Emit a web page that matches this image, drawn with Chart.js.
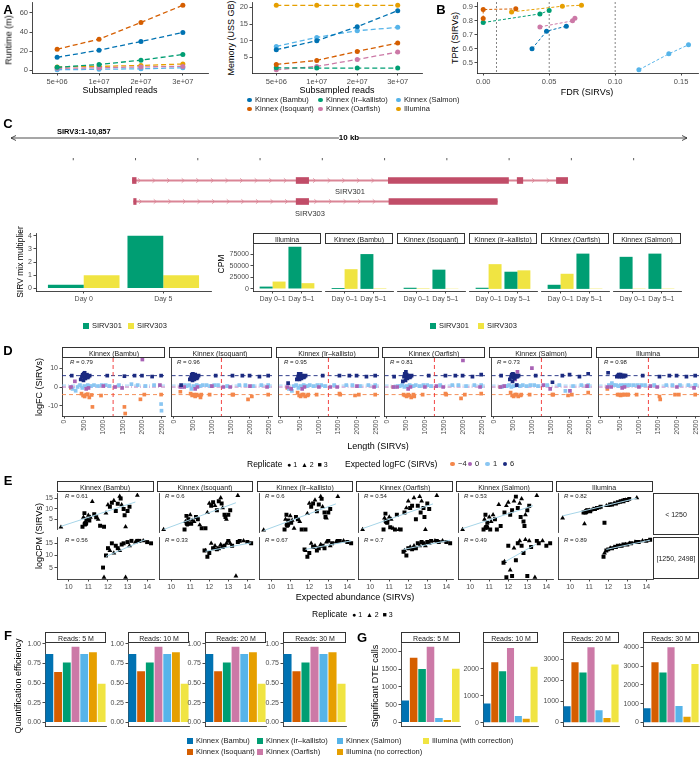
<!DOCTYPE html>
<html>
<head>
<meta charset="utf-8">
<script src="https://cdn.jsdelivr.net/npm/chart.js@4.4.1/dist/chart.umd.min.js"></script>
<style>
  body { margin: 0; background: #fff; }
  #page { position: relative; width: 700px; height: 757px; overflow: hidden; background: #fff;
          font-family: 'Liberation Sans', Arial, sans-serif; }
  #page canvas { position: absolute; }
  .strip { position: absolute; box-sizing: border-box; border: 0.8px solid #333; background: #fff; }
  .lbl { position: absolute; white-space: nowrap; line-height: 1; }
  .flat { will-change: transform; }
</style>
</head>
<body>
<div id="page"></div>
<script>
// ---------------- data: panel A ----------------
const readsLabels = ['5e+06', '1e+07', '2e+07', '3e+07'];
const methodsA = ['Kinnex (Bambu)', 'Kinnex (Isoquant)', 'Kinnex (Ir–kallisto)', 'Kinnex (Oarfish)', 'Kinnex (Salmon)', 'Illumina'];
const colorsA = ['#0072B2', '#D55E00', '#009E73', '#CC79A7', '#56B4E9', '#E69F00'];
const runtimeMin = [
  [13.5, 21, 30, 39.5],
  [22, 32.5, 50, 68],
  [3, 6, 10.5, 16.5],
  [2, 2.5, 3.5, 4],
  [0.5, 1, 1.5, 2.5],
  [3.5, 4, 5, 6.5]
];
const memoryGB = [
  [7.3, 10, 14.2, 19],
  [2.9, 4.1, 6.8, 9.3],
  [1.9, 1.8, 1.8, 1.8],
  [1.3, 2.3, 4.4, 6.6],
  [8.3, 11, 13, 14],
  [20.6, 20.6, 20.6, 20.6]
];

// ---------------- data: panel B ----------------
const fdrB = [[0.037, 0.048, 0.063], [0, 0, 0.0247], [0, 0.043, 0.05], [0.043, 0.0677, 0.0695], [0.118, 0.1407, 0.1556], [0.0215, 0.060, 0.0745]];
const tprB = [[0.60, 0.726, 0.762], [0.817, 0.881, 0.886], [0.788, 0.85, 0.874], [0.757, 0.80, 0.819], [0.45, 0.564, 0.629], [0.864, 0.905, 0.912]];
const fdrCutoffs = [0.01, 0.05, 0.1];

// ---------------- data: panel C ----------------
const rulerTicks = [1000, 2000, 3000, 4000, 5000, 6000, 7000, 8000, 9000, 10000];
const rulerLabels = [2000, 4000, 6000, 8000, 10000];
const transcripts = ['SIRV301', 'SIRV303'];
const exons301 = [[1950, 2010], [4580, 4780], [6060, 7990], [8130, 8220], [8760, 8940]];
const exons303 = [[1970, 2010], [4580, 4780], [6070, 7810]];
const mixDays = ['Day 0', 'Day 5'];
const mix301 = [0.27, 4];
const mix303 = [1, 1];
const cpmDays = ['Day 0–1', 'Day 5–1'];
const cpmFacets = ['Illumina', 'Kinnex (Bambu)', 'Kinnex (Isoquant)', 'Kinnex (Ir–kallisto)', 'Kinnex (Oarfish)', 'Kinnex (Salmon)'];
const cpm301 = [[5000, 92000], [2000, 76000], [2500, 42000], [2500, 37500], [9000, 77000], [70000, 77000]];
const cpm303 = [[16000, 12500], [43000, 1000], [1000, 500], [54000, 40500], [33000, 700], [700, 700]];

// ---------------- data: panel D ----------------
const dFacets = ['Kinnex (Bambu)', 'Kinnex (Isoquant)', 'Kinnex (Ir–kallisto)', 'Kinnex (Oarfish)', 'Kinnex (Salmon)', 'Illumina'];
const dR = ['0.79', '0.96', '0.95', '0.81', '0.73', '0.98'];
const dLen6 = [190, 420, 450, 470, 490, 500, 510, 520, 540, 560, 580, 600, 620, 650, 1100, 1540, 1800, 1990, 2250, 2480];
const dFc6 = [
  [6, 4, 5.5, 6.5, 3.5, 7, 5, 7.5, 4.5, 6, 6.5, 5, 5.5, 6, 6, 5.7, 6, 6, 5.5, 6],
  [1, 4, 5, 6.5, 3.5, 7, 5, 6, 4, 6.5, 5.5, 4.5, 5, 6, 6, 6, 6, 6, 5.5, 6],
  [2, 4, 5.5, 7, 4, 6.5, 5, 7, 4.5, 6, 5.5, 5, 5.5, 6, 6, 6, 6, 6, 5.5, 6],
  [5.5, 3, 5.5, 7, 3.5, 8, 5, 6.5, 4.5, 6, 5.5, 5, 5.5, 6, 6, 6, 6, 6, 5.5, 6.5],
  [6, 4, 5.5, 6.5, 3, 7, 5, 6.5, 4.5, 6, 5.5, 1, 5.5, 6, 6, 2.5, 6, 6.5, 5.5, 7],
  [7.5, 5.5, 6, 6.5, 5.5, 6, 6, 6.5, 5.5, 6, 6, 5.5, 6, 6, 6, 5.5, 6, 6, 5.5, 6]
];
const dLen0 = [170, 270, 560, 620, 1000, 1300, 1480, 2000, 2450];
const dFc0 = [
  [0, 3, -1, -0.5, 0.5, 0, -0.5, 14.5, 1],
  [0, 0, -1, 0, 0.5, 0, 0, 0.5, 0],
  [0, -1, -1, 0, 0, 0, 0, 0.5, 0],
  [0, 0, -1, 0, 0, 0.5, 0, 14, 0],
  [0, 0.5, 4, 8, 10, 1, -1, -2, 0.5],
  [0, 0, -0.5, 0, 0, 0.5, 0, 0, -0.5]
];
const dLen1 = [210, 290, 340, 400, 460, 520, 600, 680, 760, 860, 960, 1060, 1160, 1400, 1720, 1880, 2080, 2300, 2480, 2490];
const dFc1 = [
  [-1, -2, 0, 1, -0.5, 0.5, 1, 0.5, 1, 0.5, 1, 1, 0.5, 1, 1.5, 1, 0.5, 1, -9, -12.5],
  [0, 1, 0.5, 1, -1, 0.5, 1, 0.5, 1, 1, 0.5, 1, 1, 0.5, 1, 1, 0.5, 1, 1, 0.5],
  [-1, -2, 0.5, 1, -0.5, 0.5, 1, 0.5, 1, 0.5, 1, 1, 0.5, 1, 1, 1, 0.5, 1, 1, 0.5],
  [0, 0.5, 0.5, 1, 0, 0.5, 1, 0.5, 1, 0.5, 1, 1, 0.5, 1, 1, 1, 0.5, 1, 1, 0.5],
  [0, 0.5, 0.5, 1, 0, 0.5, 1, 0.5, 1, 0.5, 1, 1, 0.5, 1, 1, -2, 0.5, 1, 1, 0.5],
  [1, 2, 1, 1, 0.5, 1, 1, 1, 1, 1, 1, 1, 1, 1, 1, 1, 1, 1, 1, 1]
];
const dLenM4 = [170, 440, 480, 520, 560, 600, 640, 700, 720, 940, 1540, 1560, 1950, 2050, 2480];
const dFcM4 = [
  [-0.5, -3.5, -4.5, -5, -4, -3.8, -5.5, -4.2, -10.5, -4.5, -10.5, -14, -6.5, -4, -4],
  [-2.5, -3.5, -4.5, -4, -5, -4, -4.5, -5.5, -4, -4, -4, -4, -6.5, -5, -4],
  [-0.5, -3, -4.5, -5, -4, -4, -5, -4.5, -4, -4, -3.5, -4, -4.5, -4, -4],
  [0, -4, -4.5, -5, -4, -4.5, -5.5, -4, -5, -4, -3.5, -4, -6, -4, -3.5],
  [0, -3, -4.5, -5, -4, -4, -5, -4.5, -4, -4, -4, -4, -4.5, -4, -3],
  [-1, -4, -4, -4.5, -4, -4, -4, -4, -4, -4, -5, -6.5, -4, -4, -4]
];
const fcLevels = ['−4', '0', '1', '6'];
const fcColors = ['#F4874B', '#A862B5', '#8AC6F2', '#1B2A80'];

// ---------------- data: panel E ----------------
const eR_top = ['0.61', '0.6', '0.6', '0.54', '0.53', '0.82'];
const eR_bot = ['0.56', '0.33', '0.67', '0.7', '0.49', '0.89'];
const eTopX = [9.6, 10.7, 10.75, 10.8, 10.85, 10.9, 11.0, 11.05, 11.1, 11.2, 11.3, 11.4, 11.5, 11.6, 11.8, 11.9, 12.0, 12.1, 12.2, 12.3, 12.4, 12.5, 12.6, 12.65, 12.7, 12.8, 12.85, 12.9, 13.0, 13.1, 13.5];
const eTopRep = [2, 3, 2, 3, 1, 3, 2, 3, 2, 2, 3, 3, 2, 3, 3, 2, 2, 3, 3, 2, 3, 3, 2, 3, 2, 3, 3, 2, 3, 3, 2];
const eTopY = [
  [1.3, 1.5, 6, 8, 3, 5, 7, 4.5, 6, 13.5, 7.5, 6, 5, 2, 1.5, 8, 12, 11, 13, 14, 9, 12.5, 16, 15, 12, 10, 7, 1.5, 9, 11, 16.5],
  [1.5, 1.5, 5, 7.5, 4, 6, 8, 4, 5.5, 5, 7, 6, 3.5, 2, 2, 9, 13, 12, 13.5, 12, 10, 14, 15.5, 13, 11, 8, 7, 6, 8, 10, 16.5],
  [1.2, 1.5, 6, 8, 3.5, 5.5, 7.5, 4.5, 5.5, 2, 7, 6, 5, 1.5, 1.5, 8.5, 13, 11.5, 13, 14.5, 9.5, 12.5, 16, 15, 11.5, 9, 7, 6.5, 9, 10.5, 16],
  [1.5, 1.5, 6.5, 8.5, 5, 4.5, 7, 2.5, 6, 2, 1.5, 8, 1.5, 1.5, 9, 11, 14, 11, 12, 15.5, 6, 12, 16, 9, 14, 11, 7, 1.5, 13, 10.5, 16.5],
  [1.5, 1.5, 6, 8, 2.5, 4.5, 7, 1.5, 5, 8, 6, 1.5, 12.5, 3, 9, 12, 13.5, 8, 10, 14, 16, 11, 13, 7, 15, 5, 3, 8, 10, 12, 16.5],
  [6.5, 9, 4, 9, 9.5, 10, 10, 9.5, 10, 10.5, 10.5, 11, 11, 11.5, 4.5, 12, 12, 12.5, 12.5, 13, 13, 13.5, 13.5, 14, 14, 14, 14.5, 14.5, 14.5, 15, 15.5]
];
const eBotX = [11.75, 11.8, 11.9, 12.0, 12.1, 12.2, 12.3, 12.4, 12.5, 12.6, 12.7, 12.8, 12.9, 13.0, 13.1, 13.2, 13.4, 13.5, 13.6, 13.8, 14.0, 14.2];
const eBotRep = [3, 2, 3, 3, 2, 3, 2, 3, 3, 2, 3, 3, 2, 3, 2, 3, 2, 3, 3, 2, 3, 3];
const eBotY = [
  [5, 1, 10, 13, 12, 15, 11, 14, 13, 12, 14.5, 15, 1, 15.5, 14, 16, 15.5, 16, 16, 16, 15.5, 15],
  [12, 12, 9.5, 11, 15, 13, 14, 12.5, 13, 14.5, 13.5, 14, 15, 16, 15, 14, 1.5, 15.5, 16, 16, 15.5, 15],
  [12.5, 12, 9.5, 11, 15, 13.5, 14, 12, 13, 14.5, 14, 13, 15.5, 16, 14, 15, 15.5, 16, 16, 16, 15.5, 15],
  [11.5, 12, 10, 13, 13.5, 12.5, 14, 13, 15, 14, 15.5, 15, 14, 15.5, 15, 16, 16, 16, 15.5, 16, 15.5, 15],
  [7, 7.5, 1, 14, 4, 1.5, 13, 8, 15, 16, 14, 11, 16.5, 1.5, 16, 13.5, 1, 16, 15, 16, 14, 15],
  [9.5, 11, 12, 12.5, 13, 13, 13.5, 13.5, 14, 14, 14, 14.5, 14.5, 14.5, 15, 15, 15.5, 15.5, 15.5, 16, 16, 16.5]
];
// fitted line ends: [x0, y0, x1, y1]
const eFitTop = [[9.6, 1.7, 13.4, 13.3], [9.6, 1.5, 13.4, 13.3], [9.6, 1.0, 13.4, 12.8], [9.6, 1.9, 13.3, 12.8], [9.6, 1.9, 13.3, 12], [9.6, 7.5, 13.5, 15.3]];
const eFitBot = [[11.9, 9.6, 13.9, 16.5], [11.8, 11.7, 14.2, 15.2], [11.8, 12.5, 14.2, 16], [11.75, 12.5, 14.2, 16.3], [11.85, 7.5, 13.45, 14.6], [11.9, 12.5, 14.2, 16.3]];
const eRows = ['< 1250', '[1250, 2498]'];

// ---------------- data: panels F and G ----------------
const fgMethods = ['Kinnex (Bambu)', 'Kinnex (Isoquant)', 'Kinnex (Ir–kallisto)', 'Kinnex (Oarfish)', 'Kinnex (Salmon)', 'Illumina (no correction)', 'Illumina (with correction)'];
const fgColors = ['#0072B2', '#D55E00', '#009E73', '#CC79A7', '#56B4E9', '#E69F00', '#F0E442'];
const readFacets = ['Reads: 5 M', 'Reads: 10 M', 'Reads: 20 M', 'Reads: 30 M'];
const quantEff = [
  [0.87, 0.64, 0.76, 0.96, 0.87, 0.89, 0.49],
  [0.87, 0.65, 0.76, 0.96, 0.87, 0.89, 0.49],
  [0.87, 0.65, 0.76, 0.96, 0.87, 0.89, 0.49],
  [0.87, 0.65, 0.76, 0.96, 0.87, 0.89, 0.49]
];
const dteCalls = [
  [615, 1815, 1500, 2125, 130, 70, 1510],
  [705, 2235, 1905, 2765, 247, 141, 2070],
  [773, 2848, 2364, 3560, 576, 212, 2742],
  [766, 3200, 2655, 4000, 885, 306, 3115]
];
const dteTicks = [[0, 500, 1000, 1500, 2000], [0, 1000, 2000], [0, 1000, 2000, 3000], [0, 1000, 2000, 3000, 4000]];
const dteMin = [-106, -138, -178, -200];
const dteMax = [2231, 2950, 3760, 4230];

// ---------------- helpers ----------------
const page = document.getElementById('page');
const FAM = "'Liberation Sans', Arial, sans-serif";
Chart.defaults.font.family = FAM;
Chart.defaults.color = '#4d4d4d';
Chart.defaults.plugins.legend.display = false;
Chart.defaults.plugins.tooltip.enabled = false;
Chart.defaults.animation = false;

function text(s, x, y, o = {}) {
  const d = document.createElement('div');
  d.className = o.rot ? 'lbl' : 'lbl flat';
  d.innerHTML = s;
  const ax = o.align === 'left' ? '0' : o.align === 'right' ? '-100%' : '-50%';
  d.style.left = x + 'px';
  d.style.top = y + 'px';
  d.style.fontSize = (o.size || 9) + 'px';
  d.style.color = o.color || '#000';
  d.style.fontWeight = o.bold ? 'bold' : 'normal';
  if (o.bg) d.style.background = o.bg;
  d.style.transform = 'translate(' + ax + ',-50%)' + (o.rot ? ' rotate(' + o.rot + 'deg)' : '');
  page.appendChild(d);
}

// facet strip: box plus centred label
function strip(s, l, t, r, b) {
  const d = document.createElement('div');
  d.className = 'strip';
  d.style.left = l + 'px'; d.style.top = t + 'px';
  d.style.width = (r - l) + 'px'; d.style.height = (b - t) + 'px';
  page.appendChild(d);
  text(s, (l + r) / 2, (t + b) / 2 + 0.3, { size: 7, color: '#1a1a1a' });
}

function key(x, y, color, label, shape, sz) {
  sz = sz || 5;
  const m = document.createElement('div');
  m.style.cssText = 'position:absolute;left:' + x + 'px;top:' + (y - sz / 2) + 'px;width:' + sz + 'px;height:' + sz +
    'px;background:' + color + ';border-radius:' + (shape === 'dot' ? '50%' : '0');
  page.appendChild(m);
  text(label, x + sz + 3, y, { size: 7.5, align: 'left', color: '#1a1a1a' });
}

function chartAt(x, y, w, h, cfg) {
  const c = document.createElement('canvas');
  x = Math.round(x); y = Math.round(y); w = Math.round(w); h = Math.round(h);
  c.width = w; c.height = h;
  c.style.left = x + 'px'; c.style.top = y + 'px';
  c.style.width = w + 'px'; c.style.height = h + 'px';
  page.appendChild(c);
  cfg.options = Object.assign({ responsive: false, animation: false, devicePixelRatio: 1 }, cfg.options);
  return new Chart(c.getContext('2d'), cfg);
}

// rect = [left, top, right, bottom] of the plot area on the page
function plotChart(rect, yw, xh, cfg) {
  const padT = 6, padR = 10;
  cfg.options.layout = { padding: { top: padT, right: padR, left: 0, bottom: 0 } };
  return chartAt(rect[0] - yw, rect[1] - padT, rect[2] - rect[0] + yw + padR, rect[3] - rect[1] + xh + padT, cfg);
}

function axis(o) {
  const a = {
    type: o.type || 'linear',
    position: o.position,
    display: o.display !== false,
    offset: !!o.offset,
    bounds: 'data',
    border: { display: o.line !== false, color: '#1a1a1a', width: 0.8 },
    grid: { display: o.marks !== false, drawOnChartArea: false, drawTicks: true, tickLength: 2.5, color: '#1a1a1a', lineWidth: 0.8, offset: false },
    ticks: { display: o.labels !== false, font: { size: o.fs || 7 }, color: '#4d4d4d', padding: 1.5, autoSkip: false,
             maxRotation: o.rot || 0, minRotation: o.rot || 0, callback: o.cb || (v => String(v)) },
    afterFit: s => { if (s.isHorizontal()) s.height = o.size || 0; else s.width = o.size || 0; }
  };
  if (o.min !== undefined) { a.min = o.min; a.max = o.max; }
  if (o.ticks) a.afterBuildTicks = s => { s.ticks = o.ticks.map(v => ({ value: v })); };
  return a;
}

// reference lines drawn through the chart scales
function refLines(lines) {
  return {
    id: 'refLines',
    beforeDatasetsDraw(chart) {
      const { ctx, chartArea: a, scales } = chart;
      ctx.save();
      ctx.beginPath(); ctx.rect(a.left, a.top, a.width, a.height); ctx.clip();
      lines.forEach(l => {
        ctx.strokeStyle = l.color; ctx.lineWidth = l.width || 0.9; ctx.setLineDash(l.dash || []);
        ctx.beginPath();
        if (l.x !== undefined) {
          const p = scales.x.getPixelForValue(l.x);
          ctx.moveTo(p, a.top); ctx.lineTo(p, a.bottom);
        } else {
          const p = scales.y.getPixelForValue(l.y);
          ctx.moveTo(a.left, p); ctx.lineTo(a.right, p);
        }
        ctx.stroke();
      });
      ctx.restore();
    }
  };
}

function lineDatasets(xs, ys, colors, dash, width, radius) {
  return ys.map((vals, i) => ({
    data: vals.map((v, j) => ({ x: xs ? xs[i][j] : j + 1, y: v })),
    borderColor: colors[i], backgroundColor: colors[i], borderDash: dash, borderWidth: width,
    pointRadius: radius, pointHoverRadius: radius, pointBorderWidth: 0, clip: false
  }));
}

// ---------------- panel A ----------------
text('A', 8, 9, { size: 13, bold: true });
plotChart([32, 2, 208, 73], 16, 12, {
  type: 'line',
  data: { datasets: lineDatasets(null, runtimeMin, colorsA, [5, 3], 1.3, 2.5) },
  options: { scales: {
    x: axis({ min: 0.4, max: 4.6, ticks: [1, 2, 3, 4], cb: v => readsLabels[v - 1], size: 12, fs: 7.5 }),
    y: axis({ min: -2.9, max: 71.4, ticks: [0, 20, 40, 60], size: 16, fs: 7.5 })
  } }
});
text('Runtime (m)', 9, 40, { rot: -90 });
text('Subsampled reads', 120, 90);

plotChart([252, 2, 422, 73], 14, 12, {
  type: 'line',
  data: { datasets: lineDatasets(null, memoryGB, colorsA, [5, 3], 1.3, 2.5) },
  options: { scales: {
    x: axis({ min: 0.4, max: 4.6, ticks: [1, 2, 3, 4], cb: v => readsLabels[v - 1], size: 12, fs: 7.5 }),
    y: axis({ min: 0.33, max: 21.6, ticks: [5, 10, 15, 20], size: 14, fs: 7.5 })
  } }
});
text('Memory (USS GB)', 231, 38, { rot: -90 });
text('Subsampled reads', 337, 90);

// legend of A and B
const legAx = [247, 318, 396];
const legAorder = [0, 2, 4, 1, 3, 5];
legAorder.forEach((m, k) => key(legAx[k % 3], k < 3 ? 100 : 109, colorsA[m], methodsA[m], 'dot', 4.5));

// ---------------- panel B ----------------
text('B', 441, 9, { size: 13, bold: true });
plotChart([477, 2, 698, 73], 17, 12, {
  type: 'line',
  data: { datasets: lineDatasets(fdrB, tprB, colorsA, [3, 2], 1, 2.5) },
  options: { scales: {
    x: axis({ min: -0.0047, max: 0.1628, ticks: [0, 0.05, 0.1, 0.15], cb: v => v.toFixed(2), size: 12, fs: 7.5 }),
    y: axis({ min: 0.427, max: 0.935, ticks: [0.5, 0.6, 0.7, 0.8, 0.9], cb: v => v.toFixed(1), size: 17, fs: 7.5 })
  } },
  plugins: [refLines(fdrCutoffs.map(v => ({ x: v, color: '#666', dash: [2, 2], width: 0.8 })))]
});
text('TPR (SIRVs)', 455, 38, { rot: -90 });
text('FDR (SIRVs)', 587, 92);

// ---------------- panel C: gene track ----------------
text('C', 8, 123, { size: 13, bold: true });
const exonColor = '#C14D68', intronColor = '#DA8596';
chartAt(0, 128, 700, 37, {
  type: 'scatter',
  data: { datasets: [{ data: rulerTicks.map(v => ({ x: v, y: 0 })), pointStyle: 'line', rotation: 90, radius: 3.5,
                       borderColor: '#333', borderWidth: 0.8, backgroundColor: '#333' }] },
  options: {
    layout: { padding: { top: 24, left: 11, right: 13, bottom: 0 } },
    scales: {
      x: axis({ position: 'top', min: 0, max: 10857, ticks: rulerLabels, cb: v => (v / 1000) + ' kb', line: false, marks: false, size: 6, fs: 7.5 }),
      y: { display: false, min: -1, max: 1 }
    }
  },
  plugins: [{
    id: 'arrow',
    afterDraw(chart) {
      const { ctx, scales: { x } } = chart;
      const y = 10, x0 = x.getPixelForValue(0), x1 = x.getPixelForValue(10857);
      ctx.save(); ctx.strokeStyle = '#222'; ctx.lineWidth = 0.8;
      ctx.beginPath();
      ctx.moveTo(x0, y); ctx.lineTo(x1, y);
      ctx.moveTo(x0 + 5, y - 2.5); ctx.lineTo(x0, y); ctx.lineTo(x0 + 5, y + 2.5);
      ctx.moveTo(x1 - 5, y - 2.5); ctx.lineTo(x1, y); ctx.lineTo(x1 - 5, y + 2.5);
      ctx.stroke(); ctx.restore();
    }
  }]
});
text('10 kb', 349, 138, { size: 8, bold: true, bg: '#fff' });
text('SIRV3:1-10,857', 57, 132, { size: 7.5, bold: true, align: 'left' });

chartAt(0, 170, 700, 42, {
  type: 'bar',
  data: {
    labels: transcripts,
    datasets: [
      { data: exons301.map(e => ({ x: e, y: 'SIRV301' })), backgroundColor: exonColor, barThickness: 6, grouped: false },
      { data: exons303.map(e => ({ x: e, y: 'SIRV303' })), backgroundColor: exonColor, barThickness: 6, grouped: false },
      { data: [{ x: [exons301[0][0], exons301[exons301.length - 1][1]], y: 'SIRV301' },
               { x: [exons303[0][0], exons303[exons303.length - 1][1]], y: 'SIRV303' }],
        backgroundColor: intronColor, barThickness: 1.2, grouped: false }
    ]
  },
  options: {
    indexAxis: 'y',
    layout: { padding: { left: 11, right: 13, top: 0, bottom: 0 } },
    scales: { x: { type: 'linear', min: 0, max: 10857, display: false }, y: { type: 'category', display: false } }
  },
  plugins: [{
    id: 'chevrons',
    afterDatasetsDraw(chart) {
      const { ctx, scales: { x, y } } = chart;
      ctx.save(); ctx.strokeStyle = intronColor; ctx.lineWidth = 0.8;
      [exons301, exons303].forEach((ex, i) => {
        const yp = y.getPixelForValue(i);
        const x0 = x.getPixelForValue(ex[0][0]), x1 = x.getPixelForValue(ex[ex.length - 1][1]);
        for (let p = x0 + 7; p < x1 - 3; p += 14.6) {
          if (ex.some(e => p > x.getPixelForValue(e[0]) - 3 && p < x.getPixelForValue(e[1]) + 3)) continue;
          ctx.beginPath(); ctx.moveTo(p - 1.5, yp - 2.2); ctx.lineTo(p + 1, yp); ctx.lineTo(p - 1.5, yp + 2.2); ctx.stroke();
        }
      });
      ctx.restore();
    }
  }]
});
text('SIRV301', 350, 192, { size: 7.5, color: '#333' });
text('SIRV303', 310, 214, { size: 7.5, color: '#333' });

// ---------------- panel C: bars ----------------
const c301 = '#009E73', c303 = '#F0E442';
function dodgeSets(a, b) {
  return [
    { data: a.map((v, i) => ({ x: i + 1, y: v })), backgroundColor: c301, categoryPercentage: 0.9, barPercentage: 1 },
    { data: b.map((v, i) => ({ x: i + 1, y: v })), backgroundColor: c303, categoryPercentage: 0.9, barPercentage: 1 }
  ];
}
plotChart([36, 232.5, 211, 290.7], 14, 12, {
  type: 'bar',
  data: { datasets: dodgeSets(mix301, mix303) },
  options: { scales: {
    x: axis({ min: 0.4, max: 2.6, ticks: [1, 2], cb: v => mixDays[v - 1], size: 12 }),
    y: axis({ min: -0.2, max: 4.2, ticks: [0, 1, 2, 3, 4], size: 14 })
  } }
});
text('SIRV mix multiplier', 20, 262, { size: 8.5, rot: -90 });
key(83, 326, c301, 'SIRV301', 'sq', 6);
key(128, 326, c303, 'SIRV303', 'sq', 6);

cpmFacets.forEach((f, k) => {
  const l = 253 + k * 72, r = l + 68;
  strip(f, l, 233, r, 243.5);
  plotChart([l, 243.5, r, 290], k === 0 ? 24 : 0, 12, {
    type: 'bar',
    data: { datasets: dodgeSets(cpm301[k], cpm303[k]) },
    options: { scales: {
      x: axis({ min: 0.32, max: 2.68, ticks: [1, 2], cb: v => cpmDays[v - 1], size: 12 }),
      y: k === 0 ? axis({ min: -4600, max: 98000, ticks: [0, 25000, 50000, 75000], size: 24 })
                 : axis({ min: -4600, max: 98000, labels: false, marks: false, line: false, size: 0 })
    } }
  });
});
text('CPM', 221, 264, { size: 8.5, rot: -90 });
key(430, 326, c301, 'SIRV301', 'sq', 6);
key(478, 326, c303, 'SIRV303', 'sq', 6);

// ---------------- panel D ----------------
text('D', 8, 350, { size: 13, bold: true });
dFacets.forEach((f, k) => {
  const l = 62 + k * 106.8, r = l + 103;
  strip(f, l, 347, r, 358);
  const groups = [[dLen6, dFc6[k], 3], [dLen0, dFc0[k], 1], [dLen1, dFc1[k], 2], [dLenM4, dFcM4[k], 0]];
  plotChart([l, 358, r, 416], k === 0 ? 14 : 0, 31, {
    type: 'scatter',
    data: { datasets: groups.map(g => ({
      data: g[0].map((len, i) => ({ x: len, y: g[1][i] })),
      backgroundColor: fcColors[g[2]], borderWidth: 0, pointStyle: 'rect', radius: 2.6, hoverRadius: 2.6
    })) },
    options: { scales: {
      x: axis({ min: -60, max: 2580, ticks: [0, 500, 1000, 1500, 2000, 2500], rot: 90, fs: 6.5, size: 31 }),
      y: k === 0 ? axis({ min: -15.3, max: 15.3, ticks: [-10, 0, 10], size: 14 })
                 : axis({ min: -15.3, max: 15.3, labels: false, marks: false, size: 0 })
    } },
    plugins: [refLines([
      { y: 6, color: fcColors[3], dash: [4, 3] },
      { y: 1, color: fcColors[2], dash: [4, 2, 1, 2] },
      { y: 0, color: fcColors[1], dash: [4, 2, 1, 2] },
      { y: -4, color: fcColors[0], dash: [4, 3] },
      { x: 1250, color: '#F03030', dash: [4, 3] }
    ])]
  });
  text('<i>R</i> = ' + dR[k], l + 8, 362, { size: 6, align: 'left', color: '#222' });
});
text('logFC (SIRVs)', 39, 387, { rot: -90 });
text('Length (SIRVs)', 378, 446);
text('Replicate', 247, 464, { size: 8.5, align: 'left' });
text('● 1 &nbsp;▲ 2 &nbsp;■ 3', 287, 464, { size: 7, align: 'left' });
text('Expected logFC (SIRVs)', 345, 464, { size: 8.5, align: 'left' });
fcLevels.forEach((lv, i) => key(450 + i * 17.5, 464, fcColors[i], lv, 'dot', 4.5));

// ---------------- panel E ----------------
text('E', 8, 480, { size: 13, bold: true });
const repStyle = { 1: 'circle', 2: 'triangle', 3: 'rect' };
function eSets(xs, ys, reps, fit) {
  return [
    { type: 'line', data: [{ x: fit[0], y: fit[1] }, { x: fit[2], y: fit[3] }], borderColor: '#A6D5E8', borderWidth: 1, pointRadius: 0 },
    { data: xs.map((v, i) => ({ x: v, y: ys[i] })), backgroundColor: '#000', borderWidth: 0,
      pointStyle: reps.map(r => repStyle[r]), radius: 2.8, hoverRadius: 2.8 }
  ];
}
dFacets.forEach((f, k) => {
  const l = 57 + k * 99.8, r = l + 96.5;
  strip(f, l, 481, r, 492);
  plotChart([l, 493, r, 535], k === 0 ? 13 : 0, 0, {
    type: 'scatter',
    data: { datasets: eSets(eTopX, eTopY[k], eTopRep, eFitTop[k]) },
    options: { scales: {
      x: axis({ min: 9.4, max: 14.35, display: false }),
      y: k === 0 ? axis({ min: 0.3, max: 17.6, ticks: [5, 10, 15], size: 13 })
                 : axis({ min: 0.3, max: 17.6, labels: false, marks: false, size: 0 })
    } }
  });
  plotChart([l, 537, r, 579], k === 0 ? 13 : 0, 12, {
    type: 'scatter',
    data: { datasets: eSets(eBotX, eBotY[k], eBotRep, eFitBot[k]) },
    options: { scales: {
      x: axis({ min: 9.4, max: 14.35, ticks: [10, 11, 12, 13, 14], size: 12 }),
      y: k === 0 ? axis({ min: 0.3, max: 17.6, ticks: [5, 10, 15], size: 13 })
                 : axis({ min: 0.3, max: 17.6, labels: false, marks: false, size: 0 })
    } }
  });
  text('<i>R</i> = ' + eR_top[k], l + 8, 496, { size: 6, align: 'left', color: '#222' });
  text('<i>R</i> = ' + eR_bot[k], l + 8, 540, { size: 6, align: 'left', color: '#222' });
});
strip(eRows[0], 653, 493, 699, 535);
strip(eRows[1], 653, 537, 699, 579);
text('logCPM (SIRVs)', 39, 536, { rot: -90 });
text('Expected abundance (SIRVs)', 355, 597);
text('Replicate', 312, 614, { size: 8.5, align: 'left' });
text('● 1 &nbsp;▲ 2 &nbsp;■ 3', 352, 614, { size: 7, align: 'left' });

// ---------------- panels F and G ----------------
text('F', 8, 635, { size: 13, bold: true });
text('G', 362, 637, { size: 13, bold: true });
const fRects = [[45, 106], [128, 189], [205, 266], [283, 346]];
const gRects = [[401, 460], [483, 538], [563, 619], [643, 699]];
function barSet(vals) {
  return [{ data: vals, backgroundColor: fgColors, barPercentage: 0.9, categoryPercentage: 1 }];
}
readFacets.forEach((f, k) => {
  const [l, r] = fRects[k];
  strip(f, l, 632, r, 643);
  plotChart([l, 643, r, 731], 21, 1, {
    type: 'bar',
    data: { labels: fgMethods, datasets: barSet(quantEff[k]) },
    options: { scales: {
      x: axis({ type: 'category', offset: true, labels: false, marks: false, size: 1 }),
      y: axis({ min: -0.048, max: 1.008, ticks: [0, 0.25, 0.5, 0.75, 1], cb: v => v.toFixed(2), size: 21 })
    } }
  });
  const [gl, gr] = gRects[k];
  strip(f, gl, 632, gr, 643);
  plotChart([gl, 643, gr, 731], 20, 1, {
    type: 'bar',
    data: { labels: fgMethods, datasets: barSet(dteCalls[k]) },
    options: { scales: {
      x: axis({ type: 'category', offset: true, labels: false, marks: false, size: 1 }),
      y: axis({ min: dteMin[k], max: dteMax[k], ticks: dteTicks[k], size: 20 })
    } }
  });
});
text('Quantification efficiency', 18, 686, { rot: -90 });
text('Significant DTE calls', 375, 686, { rot: -90 });

// shared legend of F and G
const fgKeyX = [187, 257, 337, 423];
[[0, 2, 4, 6], [1, 3, 5]].forEach((row, ri) => {
  row.forEach((m, c) => key(fgKeyX[c], ri === 0 ? 741 : 752, fgColors[m], fgMethods[m], 'sq', 6));
});
</script>
</body>
</html>
